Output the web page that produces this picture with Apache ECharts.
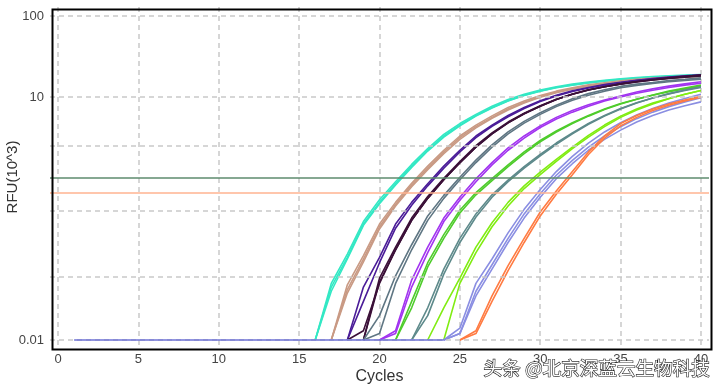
<!DOCTYPE html>
<html><head><meta charset="utf-8">
<script src="https://cdn.jsdelivr.net/npm/echarts@6/dist/echarts.min.js"></script>
<style>html,body{margin:0;padding:0;background:#fff}#c{width:718px;height:391px}</style>
</head><body><div id="c"></div>
<script>
// ---- data (RFU x10^3 per cycle) ----
const baselineStart = 1;
const baseline = [0.01,0.01,0.01,0.01,0.01,0.01,0.01,0.01,0.01,0.01,0.01,0.01,0.01,0.01,0.01,0.01,0.01,0.01,0.01,0.01,0.01,0.01,0.01,0.01];

const cyanStart = 16;
const cyan1 = [0.01,0.045,0.105,0.27,0.5,0.85,1.4,2.2,3.3,4.5,5.9,7.4,9.0,10.5,11.9,13.1,14.1,15.0,15.8,16.5,17.1,17.6,18.0,18.3,18.6];
const cyan2 = [0.01,0.05,0.115,0.29,0.54,0.9,1.47,2.3,3.45,4.7,6.1,7.7,9.3,10.8,12.2,13.4,14.4,15.3,16.1,16.8,17.4,17.9,18.3,18.6,18.9];
const cyan3 = [0.01,0.04,0.1,0.26,0.48,0.82,1.35,2.15,3.2,4.4,5.8,7.3,8.9,10.4,11.8,13.0,14.0,14.9,15.7,16.4,17.0,17.5,17.9,18.2,18.5];

const tanStart = 17;
const tan1 = [0.01,0.042,0.1,0.25,0.47,0.82,1.33,2.1,3.15,4.3,5.6,7.1,8.6,10.1,11.5,12.7,13.8,14.7,15.5,16.2,16.8,17.3,17.7,18.1];
const tan2 = [0.01,0.048,0.11,0.27,0.5,0.86,1.4,2.2,3.3,4.5,5.85,7.4,8.9,10.4,11.8,13.0,14.1,15.0,15.8,16.5,17.1,17.6,18.0,18.4];
const tan3 = [0.01,0.038,0.092,0.235,0.45,0.78,1.27,2.0,3.0,4.15,5.45,6.9,8.4,9.9,11.3,12.5,13.6,14.5,15.3,16.0,16.6,17.1,17.5,17.9];

const indigoStart = 18;
const indigo1 = [0.01,0.045,0.105,0.27,0.5,0.85,1.4,2.2,3.3,4.5,5.9,7.4,9.0,10.5,11.9,13.1,14.2,15.2,16.1,16.9,17.6,18.2,18.8];
const indigo2 = [0.01,0.03,0.09,0.24,0.46,0.8,1.32,2.1,3.15,4.35,5.7,7.2,8.8,10.3,11.7,12.9,14.0,15.0,15.9,16.7,17.4,18.0,18.6];

const darkStart = 19;
const dark1 = [0.01,0.058,0.14,0.32,0.59,0.99,1.6,2.5,3.6,4.9,6.3,7.8,9.4,10.9,12.3,13.4,14.4,15.3,16.2,17.0,17.8,18.5];
const dark3 = [0.01,0.052,0.13,0.3,0.56,0.95,1.53,2.4,3.5,4.8,6.2,7.7,9.3,10.8,12.2,13.4,14.5,15.5,16.4,17.2,18.0,18.7];
const darkLateStart = 18;
const dark2 = [0.01,0.013,0.05,0.13,0.3,0.56,0.95,1.55,2.4,3.5,4.8,6.2,7.7,9.3,10.8,12.2,13.4,14.5,15.4,16.2,16.9,17.6,18.2];

const slateStart = 19;
const slate1 = [0.01,0.02,0.062,0.15,0.34,0.61,1.02,1.66,2.56,3.7,5.0,6.4,7.9,9.5,11.0,12.3,13.5,14.4,15.1,15.9,16.5,17.2];
const slate2 = [0.01,0.012,0.05,0.13,0.3,0.56,0.95,1.55,2.4,3.5,4.75,6.1,7.6,9.1,10.5,11.8,13.0,13.9,14.7,15.4,16.0,16.6];

const purpleStart = 20;
const purple1 = [0.01,0.013,0.055,0.14,0.32,0.58,0.98,1.55,2.35,3.3,4.4,5.6,6.8,8.0,9.2,10.3,11.5,12.6,13.6,14.5,15.4];
const purple2 = [0.01,0.012,0.045,0.12,0.29,0.53,0.9,1.45,2.2,3.1,4.2,5.35,6.5,7.7,8.9,10.0,11.1,12.1,13.1,14.0,14.8];

const greenStart = 21;
const green1 = [0.01,0.03,0.09,0.2,0.4,0.66,0.98,1.45,2.1,2.9,3.8,4.8,5.9,7.1,8.3,9.4,10.5,11.6,12.6,13.6];
const green2 = [0.01,0.025,0.08,0.18,0.37,0.62,0.93,1.38,2.0,2.8,3.7,4.7,5.8,7.0,8.2,9.4,10.6,11.8,12.9,14.0];

const tealStart = 22;
const teal1 = [0.01,0.025,0.075,0.18,0.36,0.62,0.94,1.38,1.95,2.7,3.6,4.7,5.9,7.2,8.5,9.7,10.9,12.0,13.1];
const teal2 = [0.01,0.02,0.065,0.16,0.33,0.58,0.9,1.32,1.88,2.6,3.5,4.6,5.8,7.1,8.4,9.7,11.0,12.2,13.4];

const limeStart1 = 23;
const lime1 = [0.01,0.025,0.058,0.14,0.28,0.5,0.8,1.18,1.7,2.4,3.35,4.5,5.8,7.1,8.4,9.6,10.8,12.0];
const limeStart2 = 24;
const lime2 = [0.01,0.05,0.12,0.25,0.45,0.74,1.1,1.6,2.3,3.2,4.3,5.6,6.9,8.2,9.5,10.8,12.0];

const lavStart = 24;
const lav1 = [0.01,0.012,0.04,0.085,0.18,0.36,0.64,1.08,1.65,2.4,3.3,4.3,5.4,6.5,7.6,8.7,9.8];
const lav2 = [0.01,0.014,0.05,0.1,0.21,0.41,0.72,1.2,1.85,2.7,3.7,4.8,6.0,7.2,8.4,9.6,10.8];
const lav3 = [0.01,0.012,0.035,0.075,0.16,0.32,0.58,0.98,1.5,2.2,3.0,3.9,4.9,5.9,6.9,7.8,8.7];

const orangeStart = 25;
const orange1 = [0.01,0.013,0.035,0.083,0.18,0.38,0.69,1.2,2.1,3.3,4.7,5.9,7.1,8.2,9.2,10.2];
const orange2 = [0.01,0.012,0.03,0.072,0.16,0.34,0.63,1.1,1.95,3.1,4.4,5.6,6.8,7.9,8.9,9.9];

const thresholds = [1.0, 0.655];
const yGridValues = [100, 10, 2.47, 0.392, 0.0616, 0.01];
const yTickValues = [0.01, 10, 100];
const yTickLabels = ['0.01', '10', '100'];

// ---- styling ----
const C = {
  cyan:'#33E8C4', tan:'#C99A84', indigo:'#4A1C98', dark:'#3B1038', slate:'#5F7683',
  purple:'#A234F0', green:'#4FCC2C', teal:'#5E8A8B', lime:'#80EC12', lav:'#8A8EE2',
  orange:'#FF7B42', base:'#6F73D6'
};
const curves = [
  [cyanStart, cyan1, C.cyan], [cyanStart, cyan2, C.cyan], [cyanStart, cyan3, C.cyan],
  [tanStart, tan1, C.tan], [tanStart, tan2, C.tan], [tanStart, tan3, C.tan],
  [indigoStart, indigo1, C.indigo], [indigoStart, indigo2, C.indigo],
  [darkStart, dark1, C.dark], [darkLateStart, dark2, C.dark], [darkStart, dark3, C.dark],
  [slateStart, slate1, C.slate], [slateStart, slate2, C.slate],
  [purpleStart, purple1, C.purple], [purpleStart, purple2, C.purple],
  [greenStart, green1, C.green], [greenStart, green2, C.green],
  [tealStart, teal1, C.teal], [tealStart, teal2, C.teal],
  [limeStart1, lime1, C.lime], [limeStart2, lime2, C.lime],
  [lavStart, lav1, C.lav], [lavStart, lav2, C.lav], [lavStart, lav3, C.lav],
  [orangeStart, orange1, C.orange], [orangeStart, orange2, C.orange]
];
function pts(start, vals){ return vals.map((v,i)=>[start+i, v]); }

const series = [];
series.push({
  type:'line', data: pts(baselineStart, baseline), symbol:'none', silent:true, z:1,
  lineStyle:{opacity:0},
  markLine:{ silent:true, symbol:['none','none'], label:{show:false}, animation:false,
    lineStyle:{color:'#C9C9C9', type:[5,4], width:1.5},
    data: yGridValues.map(v=>({yAxis:v})) }
});
curves.forEach(c=>{
  series.push({ type:'line', data: pts(c[0], c[1]), symbol:'none', silent:true, z:3,
    lineStyle:{color:c[2], width:1.6}, itemStyle:{color:c[2]} });
});
series.push({
  type:'line', data: pts(baselineStart, baseline), symbol:'none', silent:true, z:5,
  lineStyle:{color:C.base, width:1.6},
  markLine:{ silent:true, symbol:['none','none'], label:{show:false}, animation:false,
    data:[
      {yAxis:thresholds[0], lineStyle:{color:'#5E8B6E', width:1.5, type:'solid'}},
      {yAxis:thresholds[1], lineStyle:{color:'#FFB390', width:1.5, type:'solid'}}
    ]}
});

const chart = echarts.init(document.getElementById('c'), null, {renderer:'canvas'});
chart.setOption({
  animation:false,
  textStyle:{fontFamily:'"Liberation Sans", Arial, sans-serif'},
  grid:{left:50, top:7, right:9, bottom:44, show:false, containLabel:false, outerBoundsMode:'none'},
  xAxis:{
    type:'value', min:-0.5, max:40.5, splitNumber:8,
    name:'Cycles', nameLocation:'middle', nameGap:22, nameMoveOverlap:false,
    nameTextStyle:{fontSize:16, color:'#333'},
    axisLine:{show:false}, axisTick:{show:false},
    axisLabel:{color:'#444', fontSize:13, margin:6, showMinLabel:false, showMaxLabel:false,
      formatter:v=> (Math.abs(v/5 - Math.round(v/5))<1e-9 ? String(Math.round(v)) : '')},
    splitLine:{show:true, showMinLine:false, showMaxLine:false, lineStyle:{color:'#C9C9C9', type:[5,4], width:1.5}}
  },
  yAxis:{
    type:'log', logBase:10, min:0.0082, max:129,
    name:'RFU(10^3)', nameLocation:'middle', nameGap:30, nameMoveOverlap:false,
    nameTextStyle:{fontSize:15, color:'#333'},
    axisLine:{show:false}, axisTick:{show:false}, splitLine:{show:false},
    axisLabel:{color:'#444', fontSize:13, margin:6, showMinLabel:true, showMaxLabel:true,
      formatter:v=>{
        for (let i=0;i<yTickValues.length;i++){
          if (Math.abs(Math.log10(v)-Math.log10(yTickValues[i]))<1e-6) return yTickLabels[i];
        }
        return '';
      }}
  },
  graphic:[
    {type:'rect', left:50, top:7, z:50, silent:true,
     shape:{width:659, height:340}, style:{fill:'none', stroke:'#000', lineWidth:2}},
    {type:'text', left:483, top:358, z:100, silent:true,
     style:{text:'头条 @北京深蓝云生物科技', font:'18.6px "Noto Sans CJK SC"', fill:'#fff', stroke:'#222', lineWidth:1.2}}
  ],
  series: series
});
</script></body></html>
